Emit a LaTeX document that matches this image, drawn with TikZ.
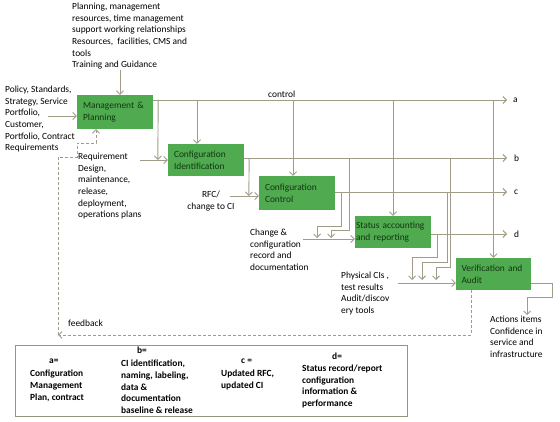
\documentclass[tikz,border=0pt]{standalone}
\usepackage{fontspec}
\setmainfont{Carlito}
\usetikzlibrary{arrows.meta}
\definecolor{boxgreen}{RGB}{80,170,80}
\definecolor{boxtext}{RGB}{18,55,18}
\definecolor{linec}{RGB}{160,156,135}
\definecolor{framec}{RGB}{150,148,130}
\newcommand\dfont{\fontsize{9.4}{11.6}\selectfont}
\begin{document}
\begin{tikzpicture}[x=1pt,y=-1pt,
  ln/.style={draw=linec, line width=0.9pt},
  arr/.style={ln, -{Straight Barb[length=3.5pt,width=7pt]}},
  fbline/.style={draw=linec, line width=0.9pt, dash pattern=on 3pt off 2pt},
  fbarr/.style={fbline, -{Straight Barb[length=3.5pt,width=7pt]}},
  box/.style={fill=boxgreen, draw=none, minimum width=76pt, text width=64pt,
    inner xsep=6pt, inner ysep=2pt, align=left, font=\dfont, text=boxtext},
  txt/.style={anchor=north west, align=left, inner sep=0pt, font=\dfont},
  leg/.style={txt, font=\dfont\bfseries},
  lbl/.style={anchor=west, inner sep=0pt, font=\dfont}]
\useasboundingbox (0,0) rectangle (560,422);

% boxes
\node[box, minimum height=34pt] (MP) at (115,112) {Management \&\\Planning};
\node[box, minimum height=32pt] (CI) at (206,160) {Configuration\\Identification};
\node[box, minimum height=34pt] (CC) at (297,193) {Configuration\\Control};
\node[box, minimum height=32pt, text width=74pt, inner xsep=1pt] (SAR) at (393,232) {Status accounting\\and reporting};
\node[box, minimum height=32pt, minimum width=75pt, text width=64pt, inner xsep=5.5pt] (VA) at (493.5,274) {Verification and\\Audit};

% texts
\node[txt] (toptext) at (72,3) {Planning, management\\resources, time management\\support working relationships\\Resources,\ \ facilities, CMS and\\tools\\Training and Guidance};
\node[txt] (lefttext) at (5,86) {Policy, Standards,\\Strategy, Service\\Portfolio,\\Customer,\\Portfolio, Contract\\Requirements};
\node[txt] (reqtext) at (78,153) {Requirement\\Design,\\maintenance,\\release,\\deployment,\\operations plans};
\node[txt, anchor=north, align=center] (rfctext) at (211,191) {RFC/\\change to CI};
\node[txt] (chgtext) at (250,229) {Change \&\\configuration\\record and\\documentation};
\node[txt] (phystext) at (341,272) {Physical CIs ,\\test results\\Audit/discov\\ery tools};
\node[txt] (acttext) at (490,316) {Actions items\\Confidence in\\service and\\infrastructure};
\node[txt] (fbtext) at (68,320) {feedback};
\node[txt] (control) at (268,91) {control};

% bus ends and labels
\coordinate (aend) at (507,100);
\coordinate (bend) at (507,158);
\coordinate (cend) at (507,192);
\coordinate (dend) at (507,234);
\node[lbl] (la) at (513,100) {a};
\node[lbl] (lb) at (514,158) {b};
\node[lbl] (lc) at (514,192) {c};
\node[lbl] (ld) at (514,234) {d};

% inputs to Management & Planning
\draw[arr] (toptext.south -| 120,0) -- ([xshift=5pt]MP.north);
\draw[arr] (48,116) -- ([yshift=-4pt]MP.west);

% bus a
\draw[arr] (MP.east |- aend) -- (aend);
\draw[arr] ([xshift=5pt]MP.east |- aend) -- ([xshift=-10pt]CI.west);
\draw[arr] ([xshift=-9pt]CI.north |- aend) -- ([xshift=-9pt]CI.north);
\draw[arr] ([xshift=-4pt]CC.north |- aend) -- ([xshift=-4pt]CC.north);
\draw[arr] (SAR.north |- aend) -- (SAR.north);
\draw[arr] (VA.north |- aend) -- (VA.north);

% requirement input
\draw[arr] (140,160) -- (CI.west);

% bus b
\draw[arr] ([yshift=2pt]CI.east) -- (bend);
\draw[arr] ([xshift=5pt]CI.east |- bend) -- ([xshift=-10pt,yshift=-3pt]CC.west);
\draw[arr] (230,196) -- ([yshift=-3pt]CC.west);

% bus c
\draw[arr] (CC.east |- cend) -- (cend);
\draw[arr] ([xshift=6pt]CC.east |- cend) -- ++(0,34) -- ++(-24,0) -- ++(0,12);
\draw[arr] ([xshift=14pt]CC.east |- bend) -- ++(0,72) -- ++(-18,0) -- ++(0,8);
\draw[arr] (303,239) -- ([yshift=-7pt]SAR.west);

% bus d
\draw[arr] (SAR.east |- dend) -- (dend);
\draw[arr] ([xshift=6pt]SAR.east |- dend) -- ++(0,23) -- ++(-25,0) -- ++(0,23);
\draw[arr] (447,192) -- (447,262) -- (422,262) -- (422,280);
\draw[arr] (450,158) -- (450,267) -- (436,267) -- (436,280);
\draw[arr] (398,283) -- ([yshift=-9pt]VA.west);

% verification output
\draw[arr] ([yshift=-9pt]VA.east) -- ++(21,0) -- ++(0,14) -- ++(-25,0) -- ++(0,18);

% feedback
\coordinate (fbcorner) at (58,335);
\draw[fbarr] ([xshift=-22.5pt]VA.south) -- ([xshift=-22.5pt]VA.south |- fbcorner) -- (fbcorner);
\draw[fbarr] (fbcorner) -- (58,157) -- (77,157) -- (77,143) -- (96,143) -- ([xshift=-19pt]MP.south);

% legend
\node[draw=framec, line width=0.9pt, minimum width=392pt, minimum height=71pt, inner sep=0pt] (legend) at (211,380.5) {};
\node[leg] (la1) at (49,359) {a=};
\node[leg] (la2) at (30,370) {Configuration\\Management\\Plan, contract};
\node[leg] (lb1) at (137,346.5) {b=};
\node[leg] (lb2) at (121,360) {CI identification,\\naming, labeling,\\data \&\\documentation\\baseline \& release};
\node[leg] (lc1) at (241,359) {c =};
\node[leg] (lc2) at (221,370) {Updated RFC,\\updated CI};
\node[leg] (ld1) at (332,353) {d=};
\node[leg] (ld2) at (302,365) {Status record/report\\configuration\\information \&\\performance};
\end{tikzpicture}
\end{document}
